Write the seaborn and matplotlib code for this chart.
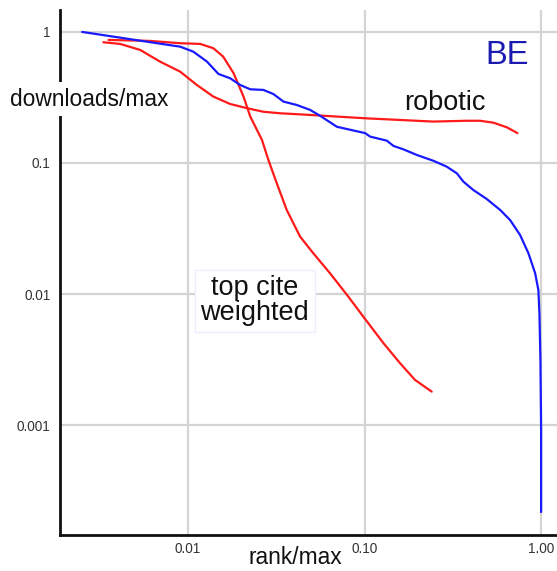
import matplotlib
matplotlib.use("Agg")
import matplotlib.pyplot as plt
import seaborn as sns
import pandas as pd

# BE downloads curve (blue)
be_rank = [0.00251, 0.00501, 0.00901, 0.0107, 0.0128, 0.01485, 0.0173, 0.0197, 0.0225, 0.0267,
           0.0304, 0.0347, 0.0413, 0.0491, 0.0560, 0.0696, 0.0864, 0.1007, 0.1074, 0.1336,
           0.1456, 0.166, 0.198, 0.245, 0.292, 0.333, 0.363, 0.413, 0.492, 0.586,
           0.667, 0.760, 0.847, 0.925, 0.965, 0.978, 0.991, 1.0, 1.0]
be_dl = [1.0, 0.869, 0.772, 0.707, 0.593, 0.478, 0.443, 0.394, 0.365, 0.361,
         0.336, 0.294, 0.277, 0.254, 0.229, 0.189, 0.177, 0.169, 0.159, 0.148,
         0.135, 0.127, 0.115, 0.104, 0.0937, 0.0834, 0.072, 0.0622, 0.0531, 0.0438,
         0.0367, 0.0282, 0.0205, 0.0144, 0.0107, 0.00713, 0.00313, 0.000916, 0.000217]

# robotic (red)
rob_rank = [0.00331, 0.00412, 0.00535, 0.00694, 0.00901, 0.0112, 0.0139, 0.0173, 0.0215, 0.0267,
            0.0332, 0.0431, 0.0491, 0.103, 0.245, 0.379, 0.451, 0.537, 0.640, 0.734]
rob_dl = [0.834, 0.810, 0.729, 0.593, 0.498, 0.394, 0.321, 0.282, 0.262, 0.246,
          0.2395, 0.235, 0.2325, 0.219, 0.207, 0.210, 0.210, 0.203, 0.187, 0.169]

# top cite weighted (red)
top_rank = [0.00354, 0.00609, 0.00901, 0.0117, 0.0139, 0.0158, 0.0181, 0.0206, 0.0225, 0.0262,
            0.0285, 0.0318, 0.0362, 0.0431, 0.0513, 0.0637, 0.0809, 0.0984, 0.128, 0.159,
            0.193, 0.240]
top_dl = [0.869, 0.854, 0.820, 0.810, 0.751, 0.648, 0.484, 0.321, 0.226, 0.150,
          0.1054, 0.070, 0.0438, 0.0274, 0.0204, 0.0144, 0.00954, 0.00671, 0.00421, 0.00296,
          0.00221, 0.00180]

x_ticks = [0.01, 0.1, 1.0]
x_labels = ["0.01", "0.10", "1.00"]
y_ticks = [1, 0.1, 0.01, 0.001]
y_labels = ["1", "0.1", "0.01", "0.001"]

sns.set_style("white")
plt.rcParams["font.family"] = ["Liberation Sans", "DejaVu Sans"]

fig = plt.figure(figsize=(5.57, 5.71), dpi=100)
ax = fig.add_axes([60 / 557, 36 / 571, 497 / 557, 525 / 571])

be = pd.DataFrame({"rank": be_rank, "dl": be_dl})
rob = pd.DataFrame({"rank": rob_rank, "dl": rob_dl})
top = pd.DataFrame({"rank": top_rank, "dl": top_dl})

sns.lineplot(data=rob, x="rank", y="dl", color="#ff1a1a", lw=1.6, sort=False, estimator=None, ax=ax)
sns.lineplot(data=top, x="rank", y="dl", color="#ff1a1a", lw=1.6, sort=False, estimator=None, ax=ax)
sns.lineplot(data=be, x="rank", y="dl", color="#1a1aff", lw=1.6, sort=False, estimator=None, ax=ax)

ax.set_xscale("log")
ax.set_yscale("log")
ax.set_xlim(0.00188, 1.23)
ax.set_ylim(0.000145, 1.47)
ax.set_xticks(x_ticks)
ax.set_xticklabels(x_labels)
ax.set_yticks(y_ticks)
ax.set_yticklabels(y_labels)
ax.minorticks_off()
ax.tick_params(length=0, labelsize=9.8, labelcolor="#333333")
ax.tick_params(axis="y", pad=7)
ax.tick_params(axis="x", pad=5)

ax.grid(True, color="#d4d4d4", lw=1.6)
ax.set_axisbelow(True)
sns.despine(ax=ax)
for s in ["left", "bottom"]:
    ax.spines[s].set_color("#111111")
    ax.spines[s].set_linewidth(2)

ax.set_xlabel("")
ax.set_ylabel("")
fig.text(295 / 557, 1 - 557 / 571, "rank/max", fontsize=16.4, ha="center", va="center", color="#111111")
fig.text(89 / 557, 1 - 99 / 571, "downloads/max", fontsize=16.4, ha="center", va="center", color="#111111",
         bbox=dict(facecolor="white", edgecolor="none", pad=4), zorder=10)

ax.text(0.9, 0.914, "BE", transform=ax.transAxes, fontsize=23.5, color="#1a1ab0", ha="center", va="center")
ax.text(0.775, 0.822, "robotic", transform=ax.transAxes, fontsize=19.5, color="#111111", ha="center", va="center")
ax.text(0.392, 0.446, "top cite\nweighted", transform=ax.transAxes, fontsize=19.5, color="#111111",
        ha="center", va="center", linespacing=0.95,
        bbox=dict(facecolor="white", edgecolor="#eeeeff", pad=4))

fig.savefig("out.png", dpi=100)
